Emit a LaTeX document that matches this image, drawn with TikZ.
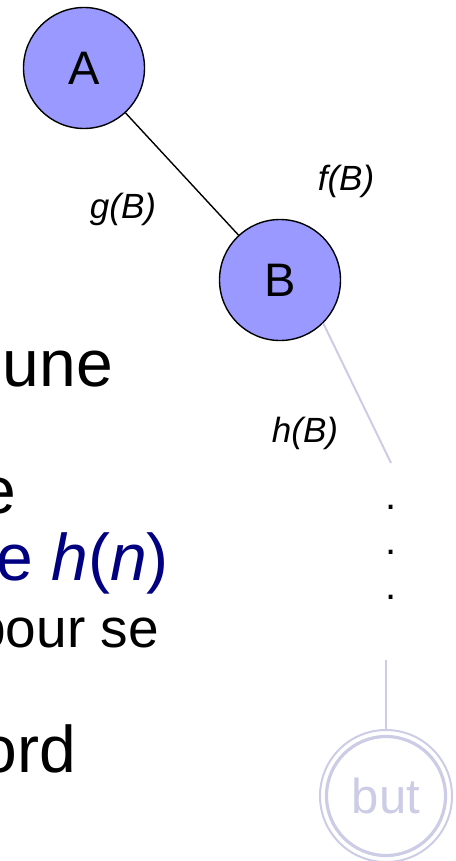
\documentclass[tikz,border=0pt]{standalone}
\usepackage{fontspec}
\setmainfont{Liberation Sans}
\definecolor{nodefill}{RGB}{153,153,255}
\definecolor{faint}{RGB}{204,204,230}
\definecolor{navyblue}{RGB}{0,0,128}
\begin{document}
\begin{tikzpicture}[x=1pt,y=-1pt,
  statenode/.style={circle,draw=black,line width=1.4pt,fill=nodefill,minimum size=121pt,inner sep=0pt,font=\fontsize{47}{50}\selectfont},
  goalnode/.style={circle,draw=faint,line width=2pt,minimum size=132pt,inner sep=0pt,text=faint,font=\fontsize{49}{52}\selectfont},
  lbl/.style={anchor=base,inner sep=0pt,font=\fontsize{35}{38}\selectfont\itshape},
  bigtxt/.style={anchor=base east,inner sep=0pt,font=\fontsize{66}{70}\selectfont},
  dotnode/.style={anchor=base,inner sep=0pt,font=\fontsize{40}{42}\selectfont},
  faintline/.style={draw=faint,line width=2pt}]
\useasboundingbox (0,0) rectangle (455,861);
% nodes
\node[statenode] (A) at (84,68) {A};
\node[statenode] (B) at (280,280) {B};
\node[goalnode] (but) at (386,796) {but};
\draw[faint,line width=3.2pt] (but) circle[radius=59.5pt];
\coordinate (hend) at (391,463);
\coordinate (vtop) at (386,660);
% connectors
\draw[black,line width=1.4pt] (A) -- (B);
\draw[faintline] (B.-45) -- (hend);
\draw[faintline] (vtop) -- (but);
% labels
\node[lbl] (g) at (123,218) {g(B)};
\node[lbl] (f) at (346,190) {f(B)};
\node[lbl] (h) at (305,442) {h(B)};
% dots
\node[dotnode] (d1) at (391,509) {.};
\node[dotnode] (d2) at (391,554) {.};
\node[dotnode] (d3) at (391,599) {.};
% left text (cut at the left edge as in the reference)
\node[bigtxt] (t1) at (113,386) {une};
\node[bigtxt] (t2) at (16,513) {e};
\node[bigtxt,text=navyblue] (t3) at (169,580) {e \textit{h}(\textit{n})};
\node[bigtxt,font=\fontsize{55}{60}\selectfont] (t4) at (159,647) {pour se};
\node[bigtxt] (t5) at (76,772) {ord};
\end{tikzpicture}
\end{document}
